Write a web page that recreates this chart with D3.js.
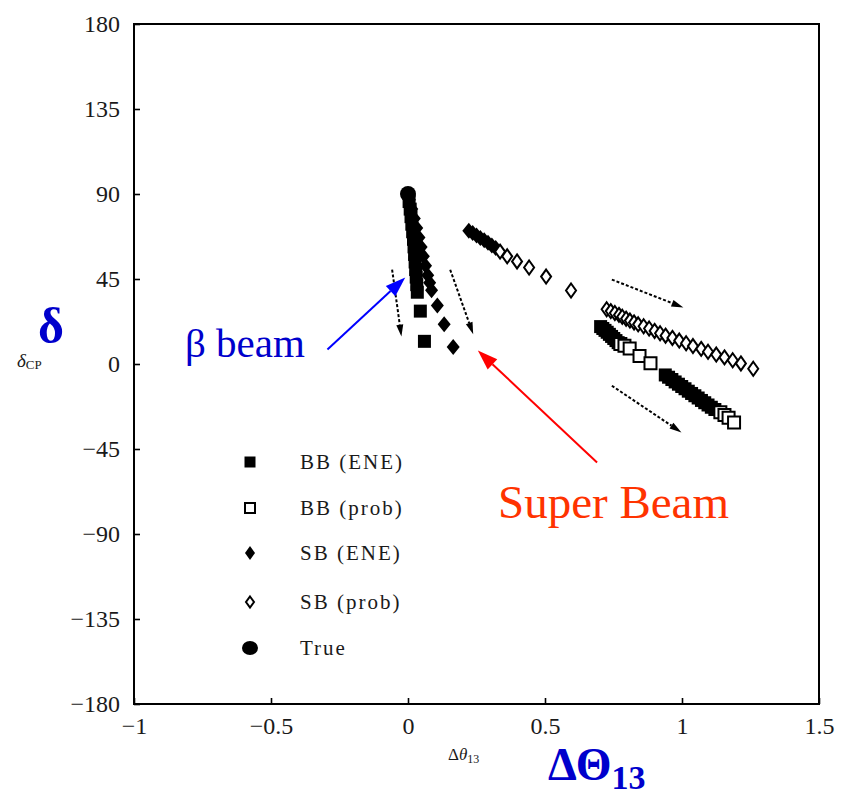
<!DOCTYPE html>
<html>
<head>
<meta charset="utf-8">
<script src="https://cdn.jsdelivr.net/npm/d3@7"></script>
<style>
  body { margin: 0; background: #fff; }
  text { font-family: "Liberation Serif", "Times New Roman", serif; }
</style>
</head>
<body>
<svg id="chart" width="848" height="796"></svg>
<script>
// ---- data ---------------------------------------------------------------
const xTicks = [-1, -0.5, 0, 0.5, 1, 1.5];
const yTicks = [-180, -135, -90, -45, 0, 45, 90, 135, 180];

// true point [Δθ13, δCP]
const truePoint = [[0, 90]];

// BB (ENE): filled squares
const bbEne = [
  [0.004, 86], [0.008, 82], [0.011, 78], [0.014, 74], [0.017, 70], [0.020, 66],
  [0.022, 62], [0.024, 58], [0.026, 54], [0.028, 50], [0.030, 46], [0.032, 42],
  [0.034, 38], [0.045, 28], [0.060, 12],
  [0.703, 19.8], [0.711, 18.8], [0.719, 17.8], [0.727, 16.8], [0.735, 15.7],
  [0.743, 14.6], [0.751, 13.5], [0.759, 12.4], [0.767, 11.3],
  [0.939, -5.8], [0.951, -7.0], [0.963, -8.2], [0.975, -9.5], [0.987, -10.7],
  [0.999, -11.9], [1.011, -13.1], [1.023, -14.4], [1.035, -15.6], [1.047, -16.8],
  [1.059, -18.0], [1.071, -19.3], [1.083, -20.5], [1.095, -21.7], [1.107, -22.9],
  [1.120, -24.1]
];

// BB (prob): open squares
const bbProb = [
  [0.775, 10.6], [0.790, 9.6], [0.809, 8.2], [0.845, 4.2], [0.885, 0.4],
  [1.140, -25.5], [1.155, -27.0], [1.170, -28.5], [1.190, -31.0]
];

// SB (ENE): filled diamonds
const sbEne = [
  [0.005, 87], [0.014, 82], [0.023, 77], [0.032, 72], [0.040, 67], [0.048, 62],
  [0.056, 57], [0.064, 52], [0.072, 47], [0.079, 43], [0.086, 39],
  [0.107, 31], [0.132, 21], [0.165, 9],
  [0.222, 70.5], [0.236, 69.3], [0.250, 68.0], [0.264, 66.7], [0.278, 65.5],
  [0.292, 64.2], [0.306, 62.8], [0.320, 61.4]
];

// SB (prob): open diamonds
const sbProb = [
  [0.336, 59.5], [0.362, 57.0], [0.398, 54.3], [0.442, 51.1], [0.504, 46.3],
  [0.595, 38.9],
  [0.725, 29.0], [0.740, 28.0], [0.755, 27.0], [0.770, 26.0], [0.782, 25.0],
  [0.796, 24.0], [0.810, 23.0], [0.825, 22.0], [0.840, 21.0], [0.860, 20.0],
  [0.880, 18.8], [0.900, 17.5], [0.920, 16.3], [0.940, 15.0], [0.965, 13.8],
  [0.990, 12.4], [1.015, 11.0], [1.040, 9.5], [1.070, 8.0], [1.095, 6.5],
  [1.125, 5.0], [1.155, 3.5], [1.185, 2.0], [1.215, 0.3], [1.260, -2.5]
];

// dashed direction arrows: [start, end]
const flowArrows = [
  [[-0.058, 50.0], [-0.024, 14.5]],
  [[0.154, 49.9], [0.238, 15.7]],
  [[0.744, 44.7], [1.005, 29.9]],
  [[0.744, -11.5], [0.998, -36.2]]
];

const legendLabels = ["BB (ENE)", "BB (prob)", "SB (ENE)", "SB (prob)", "True"];

// ---- scales -------------------------------------------------------------
const svg = d3.select("#chart");
const x = d3.scaleLinear().domain([-1, 1.5]).range([134, 819]);
const y = d3.scaleLinear().domain([-180, 180]).range([704, 24]);
const fmt = d => (d < 0 ? "\u2212" : "") + Math.abs(d);

// ---- axes ---------------------------------------------------------------
const xAxis = svg.append("g").attr("transform", `translate(0,${y(-180)})`)
  .call(d3.axisBottom(x).tickValues(xTicks).tickSize(-6).tickPadding(13).tickFormat(fmt));
const yAxis = svg.append("g").attr("transform", `translate(${x(-1)},0)`)
  .call(d3.axisLeft(y).tickValues(yTicks).tickSize(-6).tickPadding(14).tickFormat(fmt));
[xAxis, yAxis].forEach(g => {
  g.select(".domain").remove();
  g.selectAll(".tick line").attr("stroke", "#000").attr("stroke-width", 1.6);
  g.selectAll(".tick text").attr("font-family", "Liberation Serif, serif")
    .attr("font-size", 24).attr("fill", "#1a1a1a");
});

svg.append("rect")
  .attr("x", x(-1)).attr("y", y(180))
  .attr("width", x(1.5) - x(-1)).attr("height", y(-180) - y(180))
  .attr("fill", "none").attr("stroke", "#000").attr("stroke-width", 2);

// ---- marker shapes ------------------------------------------------------
const square = s => `M${-s/2},${-s/2}H${s/2}V${s/2}H${-s/2}Z`;
const diamond = (w, h) => `M0,${-h/2}L${w/2},0L0,${h/2}L${-w/2},0Z`;

const plot = svg.append("g");

plot.selectAll(".bbEne").data(bbEne).join("path")
  .attr("transform", d => `translate(${x(d[0])},${y(d[1])})`)
  .attr("d", square(13)).attr("fill", "#000");

plot.selectAll(".bbProb").data(bbProb).join("path")
  .attr("transform", d => `translate(${x(d[0])},${y(d[1])})`)
  .attr("d", square(12)).attr("fill", "#fff").attr("stroke", "#000").attr("stroke-width", 2);

plot.selectAll(".sbEne").data(sbEne).join("path")
  .attr("transform", d => `translate(${x(d[0])},${y(d[1])})`)
  .attr("d", diamond(13, 16)).attr("fill", "#000");

plot.selectAll(".sbProb").data(sbProb).join("path")
  .attr("transform", d => `translate(${x(d[0])},${y(d[1])})`)
  .attr("d", diamond(10, 14)).attr("fill", "#fff").attr("stroke", "#000").attr("stroke-width", 2);

plot.selectAll(".truePt").data(truePoint).join("circle")
  .attr("cx", d => x(d[0])).attr("cy", d => y(d[1])).attr("r", 8).attr("fill", "#000");

// ---- arrows -------------------------------------------------------------
function arrow(g, p0, p1, opts) {
  const [x0, y0] = p0, [x1, y1] = p1;
  const a = Math.atan2(y1 - y0, x1 - x0);
  const L = opts.head, Wd = opts.width;
  const bx = x1 - L * Math.cos(a), by = y1 - L * Math.sin(a);
  g.append("line").attr("x1", x0).attr("y1", y0).attr("x2", bx).attr("y2", by)
    .attr("stroke", opts.color).attr("stroke-width", opts.sw)
    .attr("stroke-dasharray", opts.dash || null);
  const nx = -Math.sin(a) * Wd / 2, ny = Math.cos(a) * Wd / 2;
  g.append("path")
    .attr("d", `M${x1},${y1}L${bx + nx},${by + ny}L${bx - nx},${by - ny}Z`)
    .attr("fill", opts.color);
}

const arrows = svg.append("g");
flowArrows.forEach(([s, e]) =>
  arrow(arrows, [x(s[0]), y(s[1])], [x(e[0]), y(e[1])],
    { color: "#000", sw: 2, dash: "3,2", head: 12, width: 7 }));

// annotation arrows (blue: β beam, red: Super Beam)
arrow(arrows, [x(-0.294), y(7.7)], [x(-0.010), y(45.8)],
  { color: "#0000ff", sw: 2, head: 20, width: 14 });
arrow(arrows, [x(0.690), y(-52.1)], [x(0.255), y(7.1)],
  { color: "#ff0000", sw: 2, head: 20, width: 14 });

// ---- legend -------------------------------------------------------------
const legendY = [462, 508, 553, 602, 648];
const leg = svg.append("g");
const legShapes = [
  g => g.append("path").attr("d", square(11)).attr("fill", "#000"),
  g => g.append("path").attr("d", square(10)).attr("fill", "#fff").attr("stroke", "#000").attr("stroke-width", 2),
  g => g.append("path").attr("d", diamond(10, 14)).attr("fill", "#000"),
  g => g.append("path").attr("d", diamond(8, 11)).attr("fill", "#fff").attr("stroke", "#000").attr("stroke-width", 2),
  g => g.append("ellipse").attr("rx", 8).attr("ry", 7).attr("fill", "#000")
];
legendLabels.forEach((lab, i) => {
  const g = leg.append("g").attr("transform", `translate(250,${legendY[i]})`);
  legShapes[i](g);
  leg.append("text").attr("x", 300).attr("y", legendY[i]).attr("dy", "0.35em")
    .attr("font-size", 21).attr("letter-spacing", 2).attr("fill", "#1a1a1a").text(lab);
});

// ---- axis titles and annotations ---------------------------------------
const yLab = svg.append("text").attr("x", 17).attr("y", 367).attr("fill", "#1a1a1a");
yLab.append("tspan").attr("font-style", "italic").attr("font-size", 19).text("δ");
yLab.append("tspan").attr("font-size", 13).attr("dy", 2).text("CP");

const xLab = svg.append("text").attr("x", 448).attr("y", 760).attr("fill", "#1a1a1a");
xLab.append("tspan").attr("font-size", 17).text("Δ");
xLab.append("tspan").attr("font-size", 17).attr("font-style", "italic").text("θ");
xLab.append("tspan").attr("font-size", 12).attr("dy", 3).text("13");

svg.append("text").attr("x", 38).attr("y", 343).attr("font-size", 50)
  .attr("font-weight", "bold").attr("fill", "#0000cc").text("δ");

const bigX = svg.append("text").attr("x", 548).attr("y", 780)
  .attr("font-weight", "bold").attr("fill", "#0000cc");
bigX.append("tspan").attr("font-size", 46).text("ΔΘ");
bigX.append("tspan").attr("font-size", 34).attr("dy", 9).text("13");

svg.append("text").attr("x", 185).attr("y", 357).attr("font-size", 41)
  .attr("fill", "#0000cc").text("β beam");

svg.append("text").attr("x", 498).attr("y", 518).attr("font-size", 47)
  .attr("fill", "#ff3300").text("Super Beam");
</script>
</body>
</html>
